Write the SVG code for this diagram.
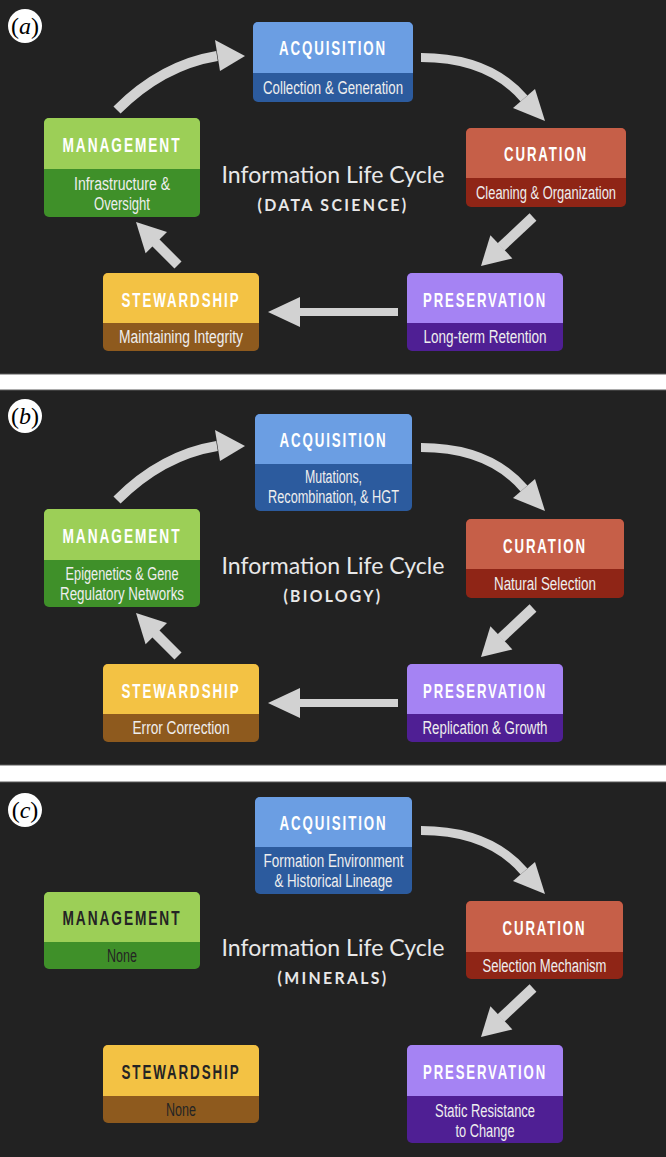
<svg xmlns="http://www.w3.org/2000/svg" width="666" height="1157" viewBox="0 0 666 1157">
<defs>
<style>
.bg{fill:#222222;stroke:#5a5a5a;stroke-width:1}
.t{font-family:"Liberation Sans",Arial,sans-serif;font-weight:bold;font-size:21px;letter-spacing:3px;fill:#ffffff;text-anchor:middle}
.s{font-family:"Liberation Sans",Arial,sans-serif;font-size:18px;fill:#eeeeee;text-anchor:middle}
.dk{fill:#242424}
.ttl{font-family:Lato,"Open Sans",sans-serif;font-size:23px;fill:#e8e8e8;text-anchor:middle}
.sub{font-family:Lato,"Open Sans",sans-serif;font-weight:bold;font-size:17px;letter-spacing:2.5px;fill:#e8e8e8;text-anchor:middle}
.sh{fill:none;stroke:#d2d2d2;stroke-linecap:butt}
.hd{fill:#d2d2d2}
.lt{font-family:"Liberation Serif","Times New Roman",serif;font-size:24px;fill:#000;text-anchor:middle}
.acqH{fill:#6b9ee3}.acqS{fill:#2c5b9e}
.curH{fill:#c65f48}.curS{fill:#8f2516}
.manH{fill:#9ccf57}.manS{fill:#3f9029}
.steH{fill:#f3c244}.steS{fill:#8e5a1e}
.preH{fill:#a583f3}.preS{fill:#4f1f94}
</style>
</defs>
<rect x="0" y="0" width="666" height="1157" fill="#ffffff"/>
<rect class="bg" x="-1" y="-1" width="668" height="375"/>
<rect class="bg" x="-1" y="390" width="668" height="375"/>
<rect class="bg" x="-1" y="782" width="668" height="376"/>

<!-- Panel letters -->
<g id="label-a"><circle cx="25" cy="26" r="17" fill="#fff"/><text class="lt" x="25" y="34">(<tspan font-style="italic">a</tspan>)</text></g>
<g id="label-b"><circle cx="25" cy="416" r="17" fill="#fff"/><text class="lt" x="25" y="424">(<tspan font-style="italic">b</tspan>)</text></g>
<g id="label-c"><circle cx="25" cy="810" r="17" fill="#fff"/><text class="lt" x="25" y="818">(<tspan font-style="italic">c</tspan>)</text></g>

<!-- ================= Panel A ================= -->
<g id="a-connectors">
<path class="sh" stroke-width="10" d="M117,110 Q162,65 217,56"/>
<polygon class="hd" points="215,40 245,56 220,71"/>
<path class="sh" stroke-width="9" d="M421,57.5 Q489,57.5 524,98.5"/>
<polygon class="hd" points="513,108 545,121 535,89"/>
<path class="sh" stroke-width="10" d="M533,217 L501,247"/>
<polygon class="hd" points="512.4,258.4 481,266 490.4,235.2"/>
<path class="sh" stroke-width="8" d="M398,312 H299"/>
<polygon class="hd" points="300,297 268,312 300,327"/>
<path class="sh" stroke-width="10" d="M178,265 L155,242"/>
<polygon class="hd" points="167,232 136,222 145.6,253.2"/>
</g>
<g id="a-title">
<text class="ttl" x="333" y="183" textLength="223" lengthAdjust="spacingAndGlyphs">Information Life Cycle</text>
<text class="sub" x="333" y="211" textLength="151" lengthAdjust="spacingAndGlyphs">(DATA SCIENCE)</text>
</g>
<g id="a-acquisition">
<rect class="acqS" x="253" y="22" width="160" height="80" rx="5"/>
<path class="acqH" d="M253,73 V27 a5,5 0 0 1 5,-5 H408 a5,5 0 0 1 5,5 V73 Z"/>
<text class="t" x="333" y="55" textLength="108" lengthAdjust="spacingAndGlyphs">ACQUISITION</text>
<text class="s" x="333" y="94" textLength="140" lengthAdjust="spacingAndGlyphs">Collection &amp; Generation</text>
</g>
<g id="a-curation">
<rect class="curS" x="466" y="128" width="160" height="79" rx="5"/>
<path class="curH" d="M466,178 V133 a5,5 0 0 1 5,-5 H621 a5,5 0 0 1 5,5 V178 Z"/>
<text class="t" x="546" y="161" textLength="84" lengthAdjust="spacingAndGlyphs">CURATION</text>
<text class="s" x="546" y="199" font-size="16" textLength="140" lengthAdjust="spacingAndGlyphs">Cleaning &amp; Organization</text>
</g>
<g id="a-management">
<rect class="manS" x="44" y="118" width="156" height="99" rx="5"/>
<path class="manH" d="M44,169 V123 a5,5 0 0 1 5,-5 H195 a5,5 0 0 1 5,5 V169 Z"/>
<text class="t" x="122" y="152" textLength="119" lengthAdjust="spacingAndGlyphs">MANAGEMENT</text>
<text class="s" x="122" y="190" textLength="96" lengthAdjust="spacingAndGlyphs">Infrastructure &amp;</text>
<text class="s" x="122" y="210" textLength="56" lengthAdjust="spacingAndGlyphs">Oversight</text>
</g>
<g id="a-stewardship">
<rect class="steS" x="103" y="273" width="156" height="78" rx="5"/>
<path class="steH" d="M103,323 V278 a5,5 0 0 1 5,-5 H254 a5,5 0 0 1 5,5 V323 Z"/>
<text class="t" x="181" y="307" textLength="119" lengthAdjust="spacingAndGlyphs">STEWARDSHIP</text>
<text class="s" x="181" y="343" textLength="124" lengthAdjust="spacingAndGlyphs">Maintaining Integrity</text>
</g>
<g id="a-preservation">
<rect class="preS" x="407" y="273" width="156" height="78" rx="5"/>
<path class="preH" d="M407,323 V278 a5,5 0 0 1 5,-5 H558 a5,5 0 0 1 5,5 V323 Z"/>
<text class="t" x="485" y="307" textLength="124" lengthAdjust="spacingAndGlyphs">PRESERVATION</text>
<text class="s" x="485" y="343" textLength="123" lengthAdjust="spacingAndGlyphs">Long-term Retention</text>
</g>

<!-- ================= Panel B ================= -->
<g id="b-connectors" transform="translate(0,390)">
<path class="sh" stroke-width="10" d="M117,110 Q162,65 217,56"/>
<polygon class="hd" points="215,40 245,56 220,71"/>
<path class="sh" stroke-width="9" d="M421,57.5 Q489,57.5 524,98.5"/>
<polygon class="hd" points="513,108 545,121 535,89"/>
<path class="sh" stroke-width="10" d="M533,218 L501,248"/>
<polygon class="hd" points="512.4,259.4 481,267 490.4,236.2"/>
<path class="sh" stroke-width="8" d="M398,313 H299"/>
<polygon class="hd" points="300,298 268,313 300,328"/>
<path class="sh" stroke-width="10" d="M178,266 L155,243"/>
<polygon class="hd" points="167,233 136,223 145.6,254.2"/>
</g>
<g id="b-title">
<text class="ttl" x="333" y="574" textLength="223" lengthAdjust="spacingAndGlyphs">Information Life Cycle</text>
<text class="sub" x="333" y="602" textLength="99" lengthAdjust="spacingAndGlyphs">(BIOLOGY)</text>
</g>
<g id="b-acquisition">
<rect class="acqS" x="255" y="414" width="157" height="97" rx="5"/>
<path class="acqH" d="M255,464 V419 a5,5 0 0 1 5,-5 H407 a5,5 0 0 1 5,5 V464 Z"/>
<text class="t" x="333.5" y="447" textLength="108" lengthAdjust="spacingAndGlyphs">ACQUISITION</text>
<text class="s" x="333.5" y="483" textLength="57" lengthAdjust="spacingAndGlyphs">Mutations,</text>
<text class="s" x="333.5" y="503" textLength="131" lengthAdjust="spacingAndGlyphs">Recombination, &amp; HGT</text>
</g>
<g id="b-curation">
<rect class="curS" x="466" y="519" width="158" height="79" rx="5"/>
<path class="curH" d="M466,569 V524 a5,5 0 0 1 5,-5 H619 a5,5 0 0 1 5,5 V569 Z"/>
<text class="t" x="545" y="553" textLength="84" lengthAdjust="spacingAndGlyphs">CURATION</text>
<text class="s" x="545" y="590" textLength="102" lengthAdjust="spacingAndGlyphs">Natural Selection</text>
</g>
<g id="b-management">
<rect class="manS" x="44" y="509" width="156" height="98" rx="5"/>
<path class="manH" d="M44,560 V514 a5,5 0 0 1 5,-5 H195 a5,5 0 0 1 5,5 V560 Z"/>
<text class="t" x="122" y="543" textLength="119" lengthAdjust="spacingAndGlyphs">MANAGEMENT</text>
<text class="s" x="122" y="580" textLength="113" lengthAdjust="spacingAndGlyphs">Epigenetics &amp; Gene</text>
<text class="s" x="122" y="600" textLength="124" lengthAdjust="spacingAndGlyphs">Regulatory Networks</text>
</g>
<g id="b-stewardship">
<rect class="steS" x="103" y="664" width="156" height="78" rx="5"/>
<path class="steH" d="M103,714 V669 a5,5 0 0 1 5,-5 H254 a5,5 0 0 1 5,5 V714 Z"/>
<text class="t" x="181" y="698" textLength="119" lengthAdjust="spacingAndGlyphs">STEWARDSHIP</text>
<text class="s" x="181" y="734" textLength="97" lengthAdjust="spacingAndGlyphs">Error Correction</text>
</g>
<g id="b-preservation">
<rect class="preS" x="407" y="664" width="156" height="78" rx="5"/>
<path class="preH" d="M407,714 V669 a5,5 0 0 1 5,-5 H558 a5,5 0 0 1 5,5 V714 Z"/>
<text class="t" x="485" y="698" textLength="124" lengthAdjust="spacingAndGlyphs">PRESERVATION</text>
<text class="s" x="485" y="734" textLength="125" lengthAdjust="spacingAndGlyphs">Replication &amp; Growth</text>
</g>

<!-- ================= Panel C ================= -->
<g id="c-connectors" transform="translate(0,773)">
<path class="sh" stroke-width="9" d="M421,57.5 Q489,57.5 524,98.5"/>
<polygon class="hd" points="513,108 545,121 535,89"/>
<path class="sh" stroke-width="10" d="M533,215 L501,245"/>
<polygon class="hd" points="512.4,256.4 481,264 490.4,233.2"/>
</g>
<g id="c-title">
<text class="ttl" x="333" y="956" textLength="223" lengthAdjust="spacingAndGlyphs">Information Life Cycle</text>
<text class="sub" x="333" y="984" textLength="111" lengthAdjust="spacingAndGlyphs">(MINERALS)</text>
</g>
<g id="c-acquisition">
<rect class="acqS" x="255" y="797" width="157" height="97" rx="5"/>
<path class="acqH" d="M255,847 V802 a5,5 0 0 1 5,-5 H407 a5,5 0 0 1 5,5 V847 Z"/>
<text class="t" x="333.5" y="830" textLength="108" lengthAdjust="spacingAndGlyphs">ACQUISITION</text>
<text class="s" x="333.5" y="867" textLength="140" lengthAdjust="spacingAndGlyphs">Formation Environment</text>
<text class="s" x="333.5" y="887" textLength="118" lengthAdjust="spacingAndGlyphs">&amp; Historical Lineage</text>
</g>
<g id="c-curation">
<rect class="curS" x="466" y="901" width="157" height="78" rx="5"/>
<path class="curH" d="M466,952 V906 a5,5 0 0 1 5,-5 H618 a5,5 0 0 1 5,5 V952 Z"/>
<text class="t" x="544.5" y="935" textLength="84" lengthAdjust="spacingAndGlyphs">CURATION</text>
<text class="s" x="544.5" y="972" textLength="124" lengthAdjust="spacingAndGlyphs">Selection Mechanism</text>
</g>
<g id="c-management">
<rect class="manS" x="44" y="892" width="156" height="77" rx="5"/>
<path class="manH" d="M44,942 V897 a5,5 0 0 1 5,-5 H195 a5,5 0 0 1 5,5 V942 Z"/>
<text class="t dk" x="122" y="925" textLength="119" lengthAdjust="spacingAndGlyphs">MANAGEMENT</text>
<text class="s dk" x="122" y="962" textLength="30" lengthAdjust="spacingAndGlyphs">None</text>
</g>
<g id="c-stewardship">
<rect class="steS" x="103" y="1045" width="156" height="78" rx="5"/>
<path class="steH" d="M103,1096 V1050 a5,5 0 0 1 5,-5 H254 a5,5 0 0 1 5,5 V1096 Z"/>
<text class="t dk" x="181" y="1079" textLength="119" lengthAdjust="spacingAndGlyphs">STEWARDSHIP</text>
<text class="s dk" x="181" y="1116" textLength="30" lengthAdjust="spacingAndGlyphs">None</text>
</g>
<g id="c-preservation">
<rect class="preS" x="407" y="1045" width="156" height="98" rx="5"/>
<path class="preH" d="M407,1096 V1050 a5,5 0 0 1 5,-5 H558 a5,5 0 0 1 5,5 V1096 Z"/>
<text class="t" x="485" y="1079" textLength="124" lengthAdjust="spacingAndGlyphs">PRESERVATION</text>
<text class="s" x="485" y="1117" textLength="100" lengthAdjust="spacingAndGlyphs">Static Resistance</text>
<text class="s" x="485" y="1137" textLength="59" lengthAdjust="spacingAndGlyphs">to Change</text>
</g>
</svg>
